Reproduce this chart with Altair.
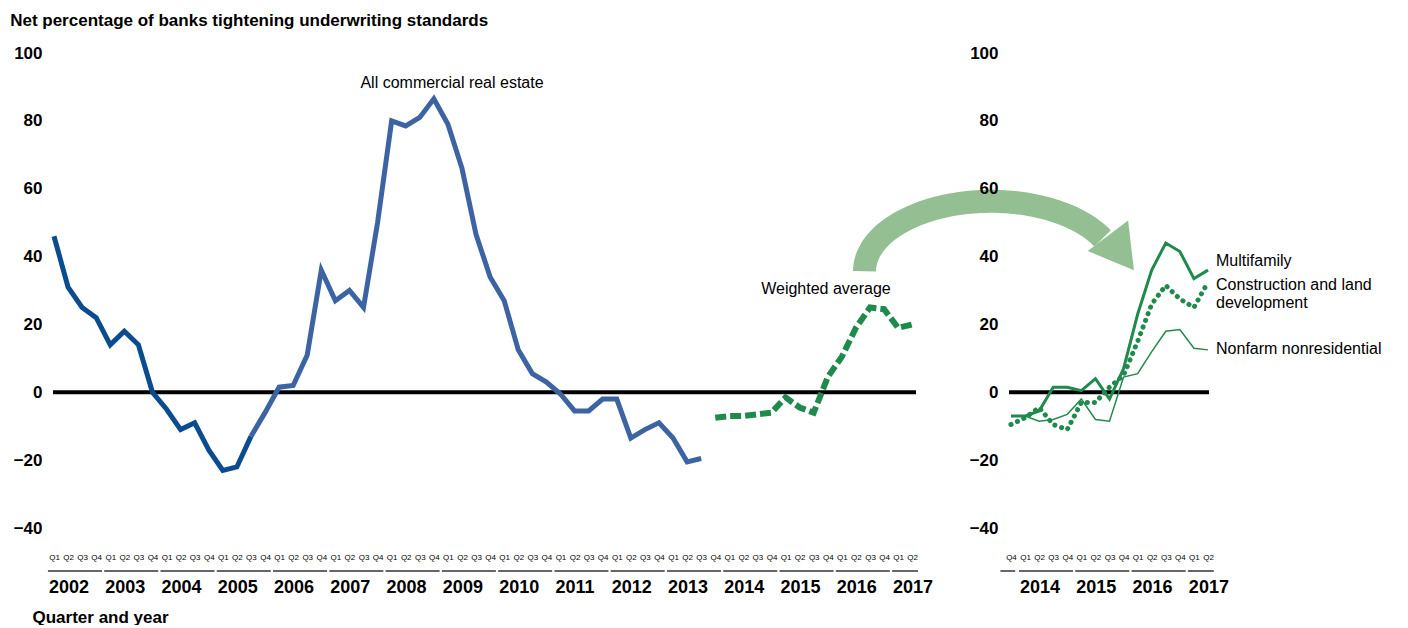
import altair as alt
import pandas as pd
import numpy as np

# ---------------- data ----------------
# Left panel: 2002 Q1 .. 2017 Q2 (index 0..61)
all_cre = [46, 31, 25, 22, 14, 18, 14, 0, -5, -11, -9, -17, -23, -22, -13, -6,
           1.5, 2, 11, 36, 27, 30, 25, 50, 80, 78.5, 81, 86.5, 79, 66, 46.5, 34,
           27, 12.5, 5.5, 3, -0.5, -5.5, -5.5, -2, -2, -13.5, -11, -9, -13.5, -20.5, -19.5]
# weighted average 2013 Q4 .. 2017 Q2
weighted_avg = [-7.5, -7, -7, -6.5, -6, -1.5, -4.5, -6, 4.5, 10.5, 19, 25, 24.5, 19, 20]
# Right panel: 2013 Q4 .. 2017 Q2 (index 0..14)
multifamily = [-7, -7, -5.5, 1.5, 1.5, 0.5, 4, -2, 7, 23, 36, 44, 41.5, 33.5, 36]
construction = [-9.5, -7.5, -4.5, -9.5, -11, -3, -3, 1.5, 5, 15, 26, 31.5, 27.5, 25, 32.5]
nonfarm = [-7, -7, -8.5, -8, -6.5, -2, -8, -8.5, 4.5, 5.5, 12, 18, 18.5, 13, 12.5]

left_years = list(range(2002, 2018))
right_years = [2013, 2014, 2015, 2016, 2017]
y_ticks = [-40, -20, 0, 20, 40, 60, 80, 100]

title_text = "Net percentage of banks tightening underwriting standards"
x_title = "Quarter and year"

# ---------------- styling ----------------
FONT = "Liberation Sans"
W, H = 863, 475
W2 = 200
BLUE_DARK = "#0b4c8e"
BLUE = "#3c64a2"
GREEN = "#1f8a4c"
ARROW = "#93bf93"

xs_left = alt.Scale(domain=[-0.07, 61.27], nice=False, zero=False)
xs_right = alt.Scale(domain=[-0.14, 14.07], nice=False, zero=False)
ys = alt.Scale(domain=[-40, 100], nice=False, zero=False)

y_axis = alt.Axis(values=y_ticks, labelFontSize=17, labelFontWeight="bold", labelColor="black",
                  labelFont=FONT, labelPadding=11, domain=False, ticks=False, grid=False, title=None)

x_axis_left = alt.Axis(values=list(range(62)), labelExpr="'Q' + (datum.value % 4 + 1)",
                       labelFontSize=8, labelColor="black", labelFont=FONT, labelPadding=25,
                       labelAngle=0, labelOverlap=False, labelFlush=False, labelBound=False,
                       domain=False, ticks=False, grid=False,
                       title=x_title, titleFontSize=17, titleFontWeight="bold", titleColor="black",
                       titleFont=FONT, titleAnchor="start", titleAlign="left",
                       titleBaseline="alphabetic", titleX=-21, titleY=94)

x_axis_right = alt.Axis(values=list(range(15)), labelExpr="'Q' + ((datum.value + 3) % 4 + 1)",
                        labelFontSize=8, labelColor="black", labelFont=FONT, labelPadding=25,
                        labelAngle=0, labelOverlap=False, labelFlush=False, labelBound=False,
                        domain=False, ticks=False, grid=False, title=None)


def XL(f):
    return alt.X(f"{f}:Q", scale=xs_left, axis=x_axis_left)


def XR(f):
    return alt.X(f"{f}:Q", scale=xs_right, axis=x_axis_right)


def Y(f):
    return alt.Y(f"{f}:Q", scale=ys, axis=y_axis)


# ---------------- left panel ----------------
cre_rows = []
for i, v in enumerate(all_cre):
    if i <= 14:
        cre_rows.append({"idx": i, "val": v, "seg": "a"})
    if i >= 14:
        cre_rows.append({"idx": i, "val": v, "seg": "b"})
cre_df = pd.DataFrame(cre_rows)
wa_df = pd.DataFrame({"idx": list(range(47, 47 + len(weighted_avg))), "val": weighted_avg})
zero_df = pd.DataFrame({"val": [0]})

yr_rows = []
for yr in left_years:
    s = 4 * (yr - 2002)
    e = min(s + 3, 61)
    yr_rows.append({"x0": s - 0.43, "x1": e + 0.41, "xt": s - 0.36, "label": str(yr)})
yr_left_df = pd.DataFrame(yr_rows)

ann_left = pd.DataFrame({"idx": [28.29, 54.87], "val": [91.2, 30.4],
                         "label": ["All commercial real estate", "Weighted average"]})

# decorative curved arrow (half ellipse, in left-panel data units)
t = np.radians(np.linspace(180, 28, 90))
arrow_df = pd.DataFrame({"idx": 66.6 + 8.99 * np.cos(t), "val": 35.66 + 20.63 * np.sin(t),
                         "o": np.arange(len(t))})
head_df = pd.DataFrame({"idx": [75.68], "val": [41.9]})

zero_l = alt.Chart(zero_df).mark_rule(color="black", strokeWidth=4).encode(
    y=Y("val"), x=alt.value(0), x2=alt.value(W))
cre_line = alt.Chart(cre_df).mark_line(strokeWidth=5, strokeJoin="miter").encode(
    x=XL("idx"), y=Y("val"),
    color=alt.Color("seg:N", scale=alt.Scale(domain=["a", "b"], range=[BLUE_DARK, BLUE]), legend=None),
    detail="seg:N")
wa_line = alt.Chart(wa_df).mark_line(strokeWidth=6, strokeDash=[11, 4], color=GREEN).encode(
    x=XL("idx"), y=Y("val"))
ann_l = alt.Chart(ann_left).mark_text(fontSize=16, font=FONT, color="black", align="center",
                                      baseline="middle").encode(x=XL("idx"), y=Y("val"), text="label:N")
arrow_body = alt.Chart(arrow_df).mark_line(strokeWidth=23, strokeCap="butt", color=ARROW).encode(
    x=XL("idx"), y=Y("val"), order="o:Q")
arrow_head = alt.Chart(head_df).mark_point(shape="M0,-1L1,0.71L-1,0.71Z", filled=True, size=2560,
                                           angle=143, color=ARROW, opacity=1, strokeWidth=0).encode(
    x=XL("idx"), y=Y("val"))
under_l = alt.Chart(yr_left_df).mark_rule(color="#333", strokeWidth=1.5).encode(
    x=XL("x0"), x2="x1", y=alt.value(H + 43))
years_l = alt.Chart(yr_left_df).mark_text(fontSize=18, fontWeight="bold", font=FONT, color="black",
                                          align="left", baseline="middle").encode(
    x=XL("xt"), y=alt.value(H + 60), text="label:N")

left = alt.layer(arrow_body, arrow_head, zero_l, cre_line, wa_line, ann_l, under_l, years_l).properties(
    width=W, height=H)

# ---------------- right panel ----------------
right_rows = []
for name, vals in [("Multifamily", multifamily), ("Construction", construction), ("Nonfarm", nonfarm)]:
    for k, v in enumerate(vals):
        right_rows.append({"k": k, "val": v, "series": name})
right_df = pd.DataFrame(right_rows)

yr_rows_r = []
for yr in right_years:
    s = max(4 * (yr - 2014) + 1, 0)
    e = min(4 * (yr - 2014) + 4, 14)
    x0 = s - 0.43 if yr >= 2014 else s - 0.75
    yr_rows_r.append({"x0": x0, "x1": e + 0.41 if yr >= 2014 else e + 0.3, "xt": s - 0.36,
                      "label": str(yr) if yr >= 2014 else ""})
yr_right_df = pd.DataFrame(yr_rows_r)

ann_right = pd.DataFrame({"k": [14.57, 14.57, 14.57, 14.57], "val": [38.6, 31.6, 26.3, 12.7],
                          "label": ["Multifamily", "Construction and land", "development",
                                    "Nonfarm nonresidential"]})

zero_r = alt.Chart(zero_df).mark_rule(color="black", strokeWidth=4).encode(
    y=Y("val"), x=alt.value(0), x2=alt.value(W2))
mf_line = alt.Chart(right_df).transform_filter(alt.datum.series == "Multifamily").mark_line(
    strokeWidth=3, color=GREEN).encode(x=XR("k"), y=Y("val"))
cl_line = alt.Chart(right_df).transform_filter(alt.datum.series == "Construction").mark_line(
    strokeWidth=5, strokeDash=[0.1, 7], strokeCap="round", color=GREEN).encode(x=XR("k"), y=Y("val"))
nf_line = alt.Chart(right_df).transform_filter(alt.datum.series == "Nonfarm").mark_line(
    strokeWidth=1.5, color=GREEN).encode(x=XR("k"), y=Y("val"))
ann_r = alt.Chart(ann_right).mark_text(fontSize=16, font=FONT, color="black", align="left",
                                       baseline="middle").encode(x=XR("k"), y=Y("val"), text="label:N")
under_r = alt.Chart(yr_right_df).mark_rule(color="#333", strokeWidth=1.5).encode(
    x=XR("x0"), x2="x1", y=alt.value(H + 43))
years_r = alt.Chart(yr_right_df).mark_text(fontSize=18, fontWeight="bold", font=FONT, color="black",
                                           align="left", baseline="middle").encode(
    x=XR("xt"), y=alt.value(H + 60), text="label:N")

right = alt.layer(zero_r, nf_line, cl_line, mf_line, ann_r, under_r, years_r).properties(
    width=W2, height=H)

chart = alt.hconcat(left, right, spacing=93).properties(
    bounds="flush",
    padding={"left": 2, "top": 4, "right": 0, "bottom": 0},
    title=alt.TitleParams(title_text, anchor="start", fontSize=17, fontWeight="bold", color="black",
                          font=FONT, dx=-3, offset=14),
).configure(font=FONT).configure_view(stroke=None, strokeWidth=0)

chart.save("out.html", embed_options={"renderer": "svg", "actions": False})
